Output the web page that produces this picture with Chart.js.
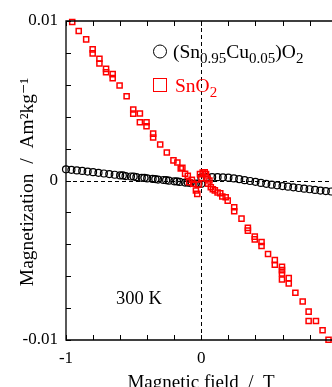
<!DOCTYPE html>
<html>
<head>
<meta charset="utf-8">
<script src="https://cdn.jsdelivr.net/npm/chart.js@4"></script>
<style>
  body { margin: 0; background: #fff; }
  #box { width: 332px; height: 387px; position: relative; }
</style>
</head>
<body>
<div id="box"><canvas id="grafico"></canvas></div>
<script>
// SnO2 (quadrados vermelhos)
const sno2X = [-0.954, -0.906, -0.851, -0.803, -0.803, -0.753, -0.753, -0.704, -0.704, -0.655, -0.655, -0.604, -0.552,
  -0.503, -0.503, -0.454, -0.454, -0.405, -0.405, -0.356, -0.356, -0.304, -0.255, -0.206, -0.177, -0.152,
  -0.14, -0.12, -0.10, -0.09, -0.07, -0.06, -0.04, -0.03, -0.02, -0.01, 0.00, 0.01, 0.025, 0.035, 0.045, 0.05,
  0.06, 0.07, 0.085, 0.10, 0.12, 0.14, 0.155, 0.18, 0.195, 0.243, 0.243, 0.297, 0.344, 0.344, 0.395, 0.395,
  0.445, 0.445, 0.493, 0.543, 0.543, 0.596, 0.596, 0.596, 0.596, 0.646, 0.646, 0.695, 0.749, 0.793, 0.793,
  0.847, 0.896, 0.94];
const sno2Y = [0.00994, 0.00937, 0.00885, 0.00822, 0.00797, 0.00763, 0.00734, 0.00700, 0.00679, 0.00667, 0.00642, 0.00596, 0.00528,
  0.00445, 0.00419, 0.00420, 0.00365, 0.00365, 0.00340, 0.00294, 0.00270, 0.00226, 0.00176, 0.00126, 0.00113, 0.00075,
  0.00080, 0.00042, 0.00030, -0.00010, 0.00005, -0.00020, -0.00063, -0.00084, -0.00025, 0.00040, 0.00015, 0.00050, 0.00052, 0.00040, 0.00012, -0.00020,
  0.00000, -0.00042, -0.00055, -0.00062, -0.00075, -0.00080, -0.00100, -0.00105, -0.00126, -0.00168, -0.00193, -0.00239, -0.00297, -0.00314, -0.00352, -0.00369,
  -0.00386, -0.00411, -0.00461, -0.00499, -0.00528, -0.00541, -0.00562, -0.00583, -0.00621, -0.00612, -0.00646, -0.00704, -0.00759, -0.00822, -0.00881,
  -0.00881, -0.00939, -0.00998];

// (Sn0.95Cu0.05)O2 (circulos pretos)
const cuX = [-1.00, -0.96, -0.92, -0.88, -0.84, -0.80, -0.76, -0.72, -0.68, -0.64, -0.60, -0.56, -0.52, -0.48, -0.44,
  -0.40, -0.36, -0.32, -0.28, -0.24, -0.20, -0.16, -0.12, -0.08, -0.04, 0.00,
  -0.58, -0.50, -0.42, -0.34, -0.26, -0.18, -0.10, -0.02,
  0.00, 0.04, 0.08, 0.12, 0.16, 0.20, 0.24, 0.28, 0.32, 0.36, 0.40, 0.44, 0.48, 0.52, 0.56, 0.60,
  0.64, 0.68, 0.72, 0.76, 0.80, 0.84, 0.88, 0.92, 0.96];
const cuY = [0.00070, 0.00067, 0.00063, 0.00060, 0.00056, 0.00052, 0.00048, 0.00044, 0.00040, 0.00036, 0.00032, 0.00028, 0.00025, 0.00021, 0.00017,
  0.00013, 0.00010, 0.00006, 0.00003, -0.00001, -0.00005, -0.00009, -0.00013, -0.00016, -0.00019, -0.00021,
  0.00032, 0.00025, 0.00017, 0.00009, 0.00002, -0.00006, -0.00013, -0.00019,
  0.00020, 0.00021, 0.00021, 0.00021, 0.00020, 0.00018, 0.00013, 0.00008, 0.00002, -0.00003, -0.00008, -0.00015, -0.00021, -0.00026, -0.00030, -0.00035,
  -0.00039, -0.00043, -0.00047, -0.00051, -0.00055, -0.00059, -0.00063, -0.00066, -0.00069];

const xTicks = [-1, -0.8, -0.6, -0.4, -0.2, 0, 0.2, 0.4, 0.6, 0.8];
const yTicks = [-0.01, -0.008, -0.006, -0.004, -0.002, 0, 0.002, 0.004, 0.006, 0.008, 0.01];
const xTickLabels = [-1, 0];
const yTickLabels = [-0.01, 0, 0.01];

const fonte = "'Liberation Serif', 'DejaVu Serif', serif";

function pares(xs, ys) {
  return xs.map((x, i) => ({ x: x, y: ys[i] }));
}

function temRotulo(lista, v) {
  return lista.some(t => Math.abs(t - v) < 1e-9);
}

// eixos, ticks para dentro, linhas tracejadas e textos
const moldura = {
  id: 'moldura',
  beforeDatasetsDraw(chart) {
    const ctx = chart.ctx;
    const a = chart.chartArea;
    const sx = chart.scales.x, sy = chart.scales.y;
    ctx.save();
    ctx.strokeStyle = '#000';
    ctx.lineWidth = 1;
    ctx.setLineDash([4, 3]);
    const x0 = Math.round(sx.getPixelForValue(0)) + 0.5;
    const y0 = Math.round(sy.getPixelForValue(0)) + 0.5;
    ctx.beginPath();
    ctx.moveTo(x0, a.top); ctx.lineTo(x0, a.bottom);
    ctx.moveTo(a.left, y0); ctx.lineTo(chart.width, y0);
    ctx.stroke();
    ctx.restore();
  },
  afterDraw(chart) {
    const ctx = chart.ctx;
    const a = chart.chartArea;
    const sx = chart.scales.x, sy = chart.scales.y;
    ctx.save();
    ctx.strokeStyle = '#000';
    ctx.lineWidth = 1.3;
    ctx.beginPath();
    ctx.moveTo(chart.width, a.top); ctx.lineTo(a.left, a.top);
    ctx.lineTo(a.left, a.bottom); ctx.lineTo(chart.width, a.bottom);
    ctx.stroke();
    ctx.lineWidth = 1;
    ctx.beginPath();
    xTicks.forEach(v => {
      const px = Math.round(sx.getPixelForValue(v)) + 0.5;
      ctx.moveTo(px, a.bottom); ctx.lineTo(px, a.bottom - 5);
      ctx.moveTo(px, a.top); ctx.lineTo(px, a.top + 5);
    });
    yTicks.forEach(v => {
      const py = Math.round(sy.getPixelForValue(v)) + 0.5;
      ctx.moveTo(a.left, py); ctx.lineTo(a.left + 5, py);
    });
    ctx.stroke();

    // legenda
    ctx.lineWidth = 1;
    ctx.beginPath();
    ctx.arc(160, 51.5, 6.5, 0, Math.PI * 2);
    ctx.stroke();
    ctx.strokeStyle = '#ff0000';
    ctx.strokeRect(153.5, 78.5, 13, 13);

    ctx.textBaseline = 'alphabetic';
    ctx.textAlign = 'left';
    function linha(partes, x, y, cor) {
      ctx.fillStyle = cor;
      partes.forEach(p => {
        ctx.font = (p.sub ? '15px ' : '19.5px ') + fonte;
        ctx.fillText(p.t, x, y + (p.sub ? 5 : 0));
        x += ctx.measureText(p.t).width;
      });
    }
    linha([{ t: '(Sn' }, { t: '0.95', sub: true }, { t: 'Cu' }, { t: '0.05', sub: true }, { t: ')O' }, { t: '2', sub: true }], 173, 58, '#000');
    linha([{ t: 'SnO' }, { t: '2', sub: true }], 175, 92, '#ff0000');

    ctx.fillStyle = '#000';
    ctx.font = '18.5px ' + fonte;
    ctx.fillText('300 K', 116, 304);

    ctx.font = '19px ' + fonte;
    ctx.textAlign = 'center';
    ctx.fillText('Magnetic field  /  T', 201, 388);

    ctx.translate(33, 182);
    ctx.rotate(-Math.PI / 2);
    ctx.font = '19.5px ' + fonte;
    ctx.fillText('Magnetization  /  Am\u00B2kg\u207B\u00B9', 0, 0);
    ctx.restore();
  }
};

new Chart(document.getElementById('grafico'), {
  type: 'scatter',
  data: {
    datasets: [
      {
        label: 'SnO2',
        data: pares(sno2X, sno2Y),
        pointStyle: 'rect',
        pointRadius: 3.6,
        borderWidth: 1.5,
        borderColor: '#ff0000',
        backgroundColor: 'rgba(0,0,0,0)'
      },
      {
        label: '(Sn0.95Cu0.05)O2',
        data: pares(cuX, cuY),
        pointStyle: 'circle',
        pointRadius: 3.5,
        borderWidth: 1.2,
        borderColor: '#000',
        backgroundColor: 'rgba(0,0,0,0)'
      }
    ]
  },
  options: {
    responsive: true,
    maintainAspectRatio: false,
    animation: false,
    clip: false,
    layout: { padding: { top: 21, right: 0, left: 0, bottom: 0 } },
    plugins: { legend: { display: false }, tooltip: { enabled: false } },
    scales: {
      x: {
        type: 'linear',
        min: -1,
        max: 0.925,
        afterFit: s => { s.height = 47; s.paddingLeft = 0; s.paddingRight = 0; },
        grid: { display: false, drawTicks: false },
        border: { display: false },
        ticks: {
          stepSize: 0.2,
          padding: 8,
          maxRotation: 0,
          autoSkip: false,
          color: '#000',
          font: { family: fonte, size: 17 },
          callback: v => temRotulo(xTickLabels, v) ? String(Math.round(v)) : ''
        }
      },
      y: {
        type: 'linear',
        min: -0.01,
        max: 0.01,
        afterFit: s => { s.width = 66; s.paddingTop = 0; s.paddingBottom = 0; },
        grid: { display: false, drawTicks: false },
        border: { display: false },
        ticks: {
          stepSize: 0.002,
          padding: 8,
          autoSkip: false,
          color: '#000',
          font: { family: fonte, size: 17 },
          callback: v => {
            if (!temRotulo(yTickLabels, v)) return '';
            if (Math.abs(v) < 1e-9) return '0';
            return v > 0 ? '0.01' : '-0.01';
          }
        }
      }
    }
  },
  plugins: [moldura]
});
</script>
</body>
</html>
